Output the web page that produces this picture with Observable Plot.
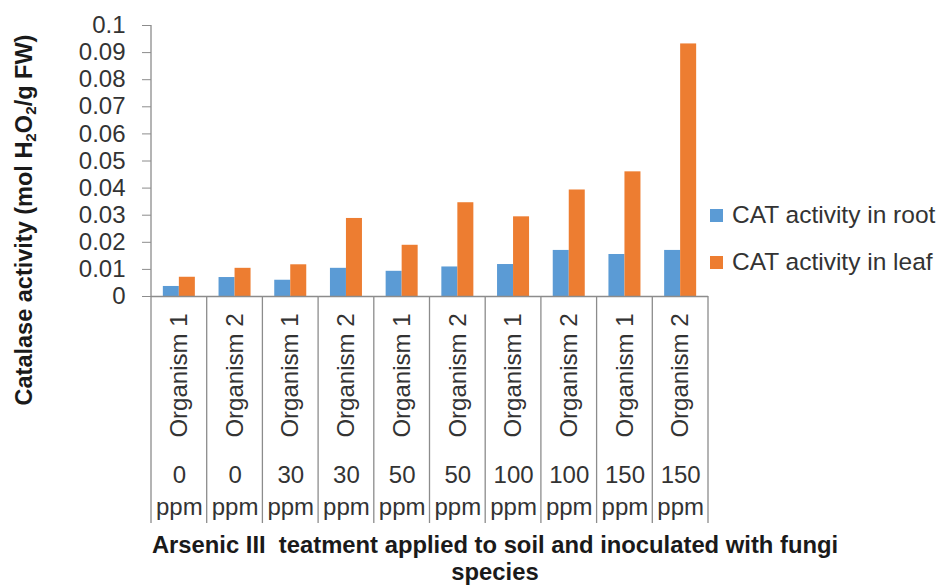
<!DOCTYPE html>
<html>
<head>
<meta charset="utf-8">
<script src="https://cdn.jsdelivr.net/npm/d3@7"></script>
<script src="https://cdn.jsdelivr.net/npm/@observablehq/plot@0.6"></script>
<style>
  body { margin: 0; background: #fff; }
  #chart { position: relative; width: 940px; height: 585px; font-family: "Liberation Sans", Arial, sans-serif; color: #333; }
  #chart svg { position: absolute; left: 0; top: 0; }
  .ytitle { position: absolute; left: 24px; top: 220px; width: 420px; margin-left: -210px; margin-top: -14px;
            line-height: 28px; text-align: center; font-weight: bold; font-size: 23.5px; white-space: pre;
            transform: rotate(-90deg); color: #1a1a1a; }
  .ytitle sub { font-size: 0.65em; vertical-align: -0.25em; line-height: 0; }
  .xtitle { position: absolute; left: 95px; width: 800px; top: 531px; text-align: center; font-weight: bold;
            font-size: 23.8px; line-height: 27px; white-space: pre; color: #1a1a1a; }
  .legend { position: absolute; left: 710px; top: 200px; font-size: 24.5px; color: #333; }
  .legend div { display: flex; align-items: center; height: 30px; margin-bottom: 17px; white-space: nowrap; }
  .legend span.sw { width: 13px; height: 13px; margin-right: 9px; display: inline-block; }
</style>
</head>
<body>
<div id="chart"></div>
<script>
// Catalase (CAT) activity, mol H2O2 / g FW, per treatment group
const organisms = ["Organism 1", "Organism 2", "Organism 1", "Organism 2", "Organism 1", "Organism 2", "Organism 1", "Organism 2", "Organism 1", "Organism 2"];
const doses = ["0", "0", "30", "30", "50", "50", "100", "100", "150", "150"];
const rootCAT = [0.0037, 0.0070, 0.0060, 0.0104, 0.0093, 0.0109, 0.0118, 0.0170, 0.0155, 0.0170];
const leafCAT = [0.0071, 0.0104, 0.0117, 0.0288, 0.0189, 0.0346, 0.0294, 0.0393, 0.0460, 0.0932];
const seriesNames = ["CAT activity in root", "CAT activity in leaf"];
const seriesColors = ["#5B9BD5", "#ED7D31"];
const yTicks = [0, 0.01, 0.02, 0.03, 0.04, 0.05, 0.06, 0.07, 0.08, 0.09, 0.1];

const keys = organisms.map((o, i) => `${o}|${doses[i]} ppm`);
const rows = keys.flatMap((key, i) => [
  {key, series: seriesNames[0], value: rootCAT[i]},
  {key, series: seriesNames[1], value: leafCAT[i]}
]);

const axisGray = "#8c8c8c";
const textColor = "#333";

const plot = Plot.plot({
  width: 940,
  height: 585,
  marginLeft: 151,
  marginRight: 232,
  marginTop: 25,
  marginBottom: 289,
  style: {fontFamily: "'Liberation Sans', Arial, sans-serif", fontSize: "24px", color: textColor, background: "transparent", overflow: "visible"},
  fx: {domain: keys, padding: 0, round: false, label: null},
  x: {domain: seriesNames, paddingInner: 0, paddingOuter: 0.74, round: false, axis: null},
  y: {domain: [0, 0.1], axis: null},
  color: {domain: seriesNames, range: seriesColors},
  marks: [
    Plot.barY(rows, {fx: "key", x: "series", y: "value", fill: "series"}),
    Plot.ruleY([0], {stroke: axisGray, strokeWidth: 1.3}),
    Plot.axisY({ticks: yTicks, tickFormat: d => (d === 0 ? "0" : String(d)), tickSize: 9, tickPadding: 17,
                stroke: axisGray, fill: textColor, label: null}),
    Plot.axisFx({anchor: "bottom", tickSize: 0, tickRotate: -90, tickPadding: 17,
                 tickFormat: k => k.split("|")[0], fill: textColor, label: null}),
    Plot.axisFx({anchor: "bottom", tickSize: 0, tickPadding: 169,
                 tickFormat: k => k.split("|")[1].split(" ")[0], fill: textColor, label: null}),
    Plot.axisFx({anchor: "bottom", tickSize: 0, tickPadding: 201,
                 tickFormat: k => k.split("|")[1].split(" ")[1], fill: textColor, label: null})
  ]
});

// Category grid: separators between groups, and the value axis line
const fxScale = plot.scale("fx");
const yScale = plot.scale("y");
const gridBottom = yScale.apply(0) + 227;
const bounds = keys.map(k => fxScale.apply(k)).concat([fxScale.apply(keys[keys.length - 1]) + fxScale.bandwidth]);
const grid = d3.select(plot).append("g").attr("stroke", axisGray).attr("stroke-width", 1.3);
bounds.forEach((bx, i) => {
  grid.append("line")
    .attr("x1", bx).attr("x2", bx)
    .attr("y1", i === 0 ? yScale.apply(0.1) : yScale.apply(0))
    .attr("y2", gridBottom);
});

const chart = document.getElementById("chart");
chart.appendChild(plot);

const ytitle = document.createElement("div");
ytitle.className = "ytitle";
ytitle.innerHTML = "Catalase activity (mol H<sub>2</sub>O<sub>2</sub>/g FW)";
chart.appendChild(ytitle);

const xtitle = document.createElement("div");
xtitle.className = "xtitle";
xtitle.textContent = "Arsenic III  teatment applied to soil and inoculated with fungi\nspecies";
chart.appendChild(xtitle);

const legend = document.createElement("div");
legend.className = "legend";
seriesNames.forEach((name, i) => {
  const item = document.createElement("div");
  const sw = document.createElement("span");
  sw.className = "sw";
  sw.style.background = seriesColors[i];
  item.appendChild(sw);
  item.appendChild(document.createTextNode(name));
  legend.appendChild(item);
});
chart.appendChild(legend);
</script>
</body>
</html>
